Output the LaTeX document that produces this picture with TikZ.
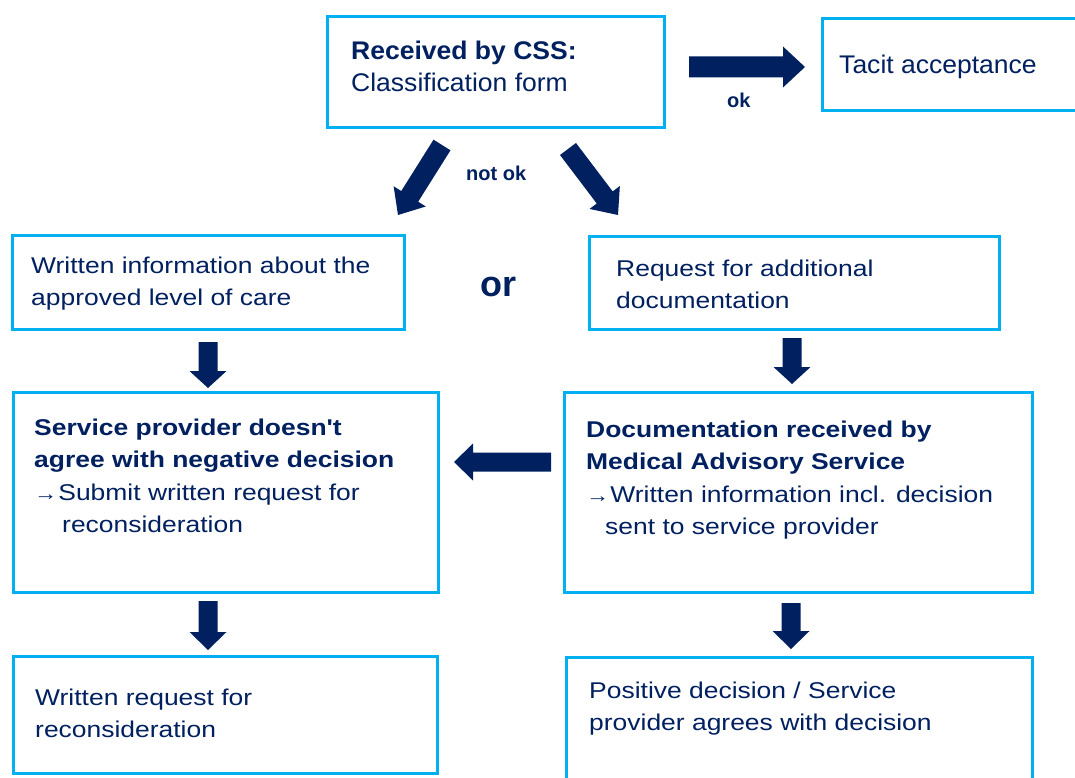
\documentclass[tikz,border=0pt]{standalone}
\usepackage{fontspec}
\setmainfont{Liberation Sans}
\newfontfamily\bodyf{Liberation Sans}[FakeStretch=1.16]
\newfontfamily\topf{Liberation Sans}[FakeStretch=1.04]
\usetikzlibrary{calc}
\definecolor{navy}{RGB}{0,32,96}
\definecolor{cyanb}{RGB}{0,176,240}
\newcommand\lines[1]{\begin{tabular}[t]{@{}l@{}}#1\end{tabular}}
\newcommand\rarr{{\fontsize{20}{20}\selectfont →}\hspace{1pt}}
% block arrow: tail, tip, half shaft, half head, head length
\newcommand\blockarrow[5]{%
  \fill[navy] ($(#1)!#3!90:(#2)$) -- ($(#2)!#5!(#1)!#3!-90:(#1)$)
    -- ($(#2)!#5!(#1)!#4!-90:(#1)$) -- (#2)
    -- ($(#2)!#5!(#1)!#4!90:(#1)$) -- ($(#2)!#5!(#1)!#3!90:(#1)$)
    -- ($(#1)!#3!-90:(#2)$) -- cycle;}
\begin{document}
\begin{tikzpicture}[x=1pt,y=-1pt,
  box/.style={draw=cyanb, line width=2.6pt, fill=white, rectangle, anchor=north west, inner sep=0pt},
  txt/.style={anchor=base west, inner sep=0pt, text=navy, font=\bodyf\fontsize{22.8}{32.5}\selectfont},
  toptxt/.style={anchor=base west, inner sep=0pt, text=navy, font=\topf\fontsize{25.5}{32}\selectfont},
  lbl/.style={anchor=base west, inner sep=0pt, text=navy}]
\useasboundingbox (0,0) rectangle (1075,778);
\clip (0,0) rectangle (1075,778);
% boxes
\node[box, minimum width=337pt, minimum height=111pt] (top) at (326,15) {};
\node[box, minimum width=270pt, minimum height=92pt] (tacit) at (821,17) {};
\node[box, minimum width=392pt, minimum height=94pt] (l1) at (11,234) {};
\node[box, minimum width=410pt, minimum height=93pt] (r1) at (588,235) {};
\node[box, minimum width=425pt, minimum height=200pt] (l2) at (12,391) {};
\node[box, minimum width=468pt, minimum height=200pt] (r2) at (563,391) {};
\node[box, minimum width=424pt, minimum height=117pt] (l3) at (12,655) {};
\node[box, minimum width=466pt, minimum height=140pt] (r3) at (565,656) {};
% texts
\node[toptxt] (topt) at (351,60) {\lines{\textbf{Received by CSS:}\\Classification form}};
\node[toptxt] (tacitt) at (839,74) {Tacit acceptance};
\node[txt] (l1t) at (31,273) {\lines{Written information about the\\approved level of care}};
\node[txt] (r1t) at (616,276) {\lines{Request for additional\\documentation}};
\node[txt] (l2t) at (34,435) {\lines{\textbf{Service provider doesn't}\\\textbf{agree with negative decision}\\\rarr Submit written request for\\\hspace*{28pt}reconsideration}};
\node[txt] (r2t) at (586,437) {\lines{\textbf{Documentation received by}\\\textbf{Medical Advisory Service}\\\rarr Written information incl. decision\\\hspace*{19pt}sent to service provider}};
\node[txt] (l3t) at (35,705) {\lines{Written request for\\reconsideration}};
\node[txt] (r3t) at (589,698) {\lines{Positive decision / Service\\provider agrees with decision}};
\node[lbl, font=\bfseries\fontsize{36}{36}\selectfont] (or) at (480,296) {or};
\node[lbl, font=\bfseries\fontsize{20}{20}\selectfont] (notok) at (466,180) {not ok};
\node[lbl, font=\bfseries\fontsize{20}{20}\selectfont] (ok) at (727,108) {ok};
% arrow ends
\coordinate (a1s) at (689,67);  \coordinate (a1e) at (805,67);
\coordinate (a2s) at (442,145); \coordinate (a2e) at (398,215);
\coordinate (a3s) at (568,149); \coordinate (a3e) at (618,215);
\coordinate (a4s) at (208,342); \coordinate (a4e) at (208,388);
\coordinate (a5s) at (792,338); \coordinate (a5e) at (792,384);
\coordinate (a6s) at (551,462); \coordinate (a6e) at (454,462);
\coordinate (a7s) at (208,601); \coordinate (a7e) at (208,650);
\coordinate (a8s) at (791,603); \coordinate (a8e) at (791,649);
\blockarrow{a1s}{a1e}{10.5pt}{20.5pt}{22pt}
\blockarrow{a2s}{a2e}{10pt}{19pt}{22pt}
\blockarrow{a3s}{a3e}{10pt}{19pt}{22pt}
\blockarrow{a4s}{a4e}{9.5pt}{18.5pt}{17pt}
\blockarrow{a5s}{a5e}{9.5pt}{18.5pt}{17pt}
\blockarrow{a6s}{a6e}{9.5pt}{18.5pt}{19pt}
\blockarrow{a7s}{a7e}{9.5pt}{18.5pt}{18pt}
\blockarrow{a8s}{a8e}{9.5pt}{18.5pt}{18pt}
\end{tikzpicture}
\end{document}
